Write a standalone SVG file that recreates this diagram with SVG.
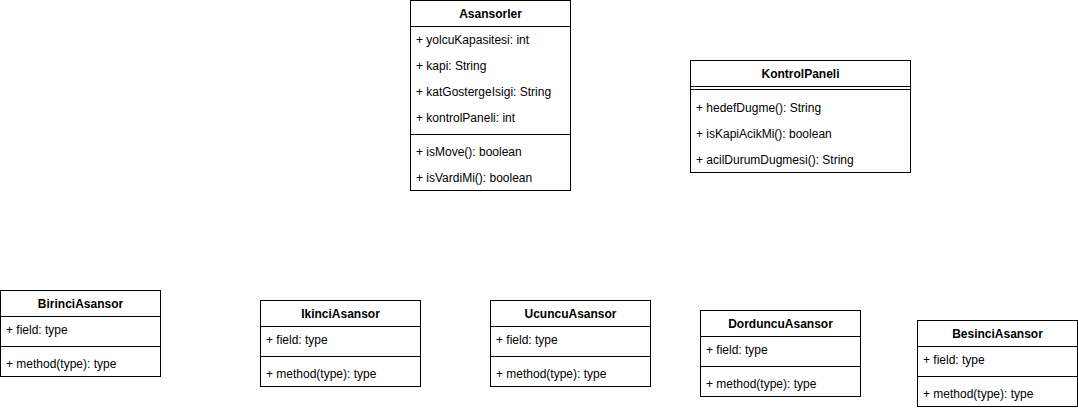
<svg xmlns="http://www.w3.org/2000/svg" width="1078" height="410" viewBox="0 0 1078 410">
<style>
.box{fill:#fff;stroke:#000;stroke-width:1}
.ln{stroke:#000;stroke-width:1;fill:none}
.t{font-family:"Liberation Sans",Arial,sans-serif;font-size:12px;fill:#000}
.h{font-family:"Liberation Sans",Arial,sans-serif;font-size:12px;font-weight:bold;fill:#000;text-anchor:middle}
</style>
<rect width="1078" height="410" fill="#fff"/>
<g id="connectors"></g>
<g id="Asansorler">
<rect class="box" x="410.5" y="0.5" width="160" height="190"/>
<line class="ln" x1="410.5" y1="26.5" x2="570.5" y2="26.5"/>
<line class="ln" x1="410.5" y1="134.5" x2="570.5" y2="134.5"/>
<text class="h" x="490.5" y="17.5">Asansorler</text>
<text class="t" x="416" y="43.5">+ yolcuKapasitesi: int</text>
<text class="t" x="416" y="69.5">+ kapi: String</text>
<text class="t" x="416" y="95.5">+ katGostergeIsigi: String</text>
<text class="t" x="416" y="121.5">+ kontrolPaneli: int</text>
<text class="t" x="416" y="155.5">+ isMove(): boolean</text>
<text class="t" x="416" y="181.5">+ isVardiMi(): boolean</text>
</g>
<g id="KontrolPaneli">
<rect class="box" x="690.5" y="60.5" width="220" height="112"/>
<line class="ln" x1="690.5" y1="86.5" x2="910.5" y2="86.5"/>
<line class="ln" x1="690.5" y1="89.5" x2="910.5" y2="89.5"/>
<text class="h" x="800.5" y="77.5">KontrolPaneli</text>
<text class="t" x="696" y="111.5">+ hedefDugme(): String</text>
<text class="t" x="696" y="137.5">+ isKapiAcikMi(): boolean</text>
<text class="t" x="696" y="163.5">+ acilDurumDugmesi(): String</text>
</g>
<g id="BirinciAsansor">
<rect class="box" x="0.5" y="290.5" width="160" height="86"/>
<line class="ln" x1="0.5" y1="316.5" x2="160.5" y2="316.5"/>
<line class="ln" x1="0.5" y1="346.5" x2="160.5" y2="346.5"/>
<text class="h" x="80.5" y="307.5">BirinciAsansor</text>
<text class="t" x="6" y="333.5">+ field: type</text>
<text class="t" x="6" y="367.5">+ method(type): type</text>
</g>
<g id="IkinciAsansor">
<rect class="box" x="260.5" y="300.5" width="160" height="86"/>
<line class="ln" x1="260.5" y1="326.5" x2="420.5" y2="326.5"/>
<line class="ln" x1="260.5" y1="356.5" x2="420.5" y2="356.5"/>
<text class="h" x="340.5" y="317.5">IkinciAsansor</text>
<text class="t" x="266" y="343.5">+ field: type</text>
<text class="t" x="266" y="377.5">+ method(type): type</text>
</g>
<g id="UcuncuAsansor">
<rect class="box" x="490.5" y="300.5" width="160" height="86"/>
<line class="ln" x1="490.5" y1="326.5" x2="650.5" y2="326.5"/>
<line class="ln" x1="490.5" y1="356.5" x2="650.5" y2="356.5"/>
<text class="h" x="570.5" y="317.5">UcuncuAsansor</text>
<text class="t" x="496" y="343.5">+ field: type</text>
<text class="t" x="496" y="377.5">+ method(type): type</text>
</g>
<g id="DorduncuAsansor">
<rect class="box" x="700.5" y="310.5" width="160" height="86"/>
<line class="ln" x1="700.5" y1="336.5" x2="860.5" y2="336.5"/>
<line class="ln" x1="700.5" y1="366.5" x2="860.5" y2="366.5"/>
<text class="h" x="780.5" y="327.5">DorduncuAsansor</text>
<text class="t" x="706" y="353.5">+ field: type</text>
<text class="t" x="706" y="387.5">+ method(type): type</text>
</g>
<g id="BesinciAsansor">
<rect class="box" x="917.5" y="320.5" width="160" height="86"/>
<line class="ln" x1="917.5" y1="346.5" x2="1077.5" y2="346.5"/>
<line class="ln" x1="917.5" y1="376.5" x2="1077.5" y2="376.5"/>
<text class="h" x="997.5" y="337.5">BesinciAsansor</text>
<text class="t" x="923" y="363.5">+ field: type</text>
<text class="t" x="923" y="397.5">+ method(type): type</text>
</g>
</svg>
